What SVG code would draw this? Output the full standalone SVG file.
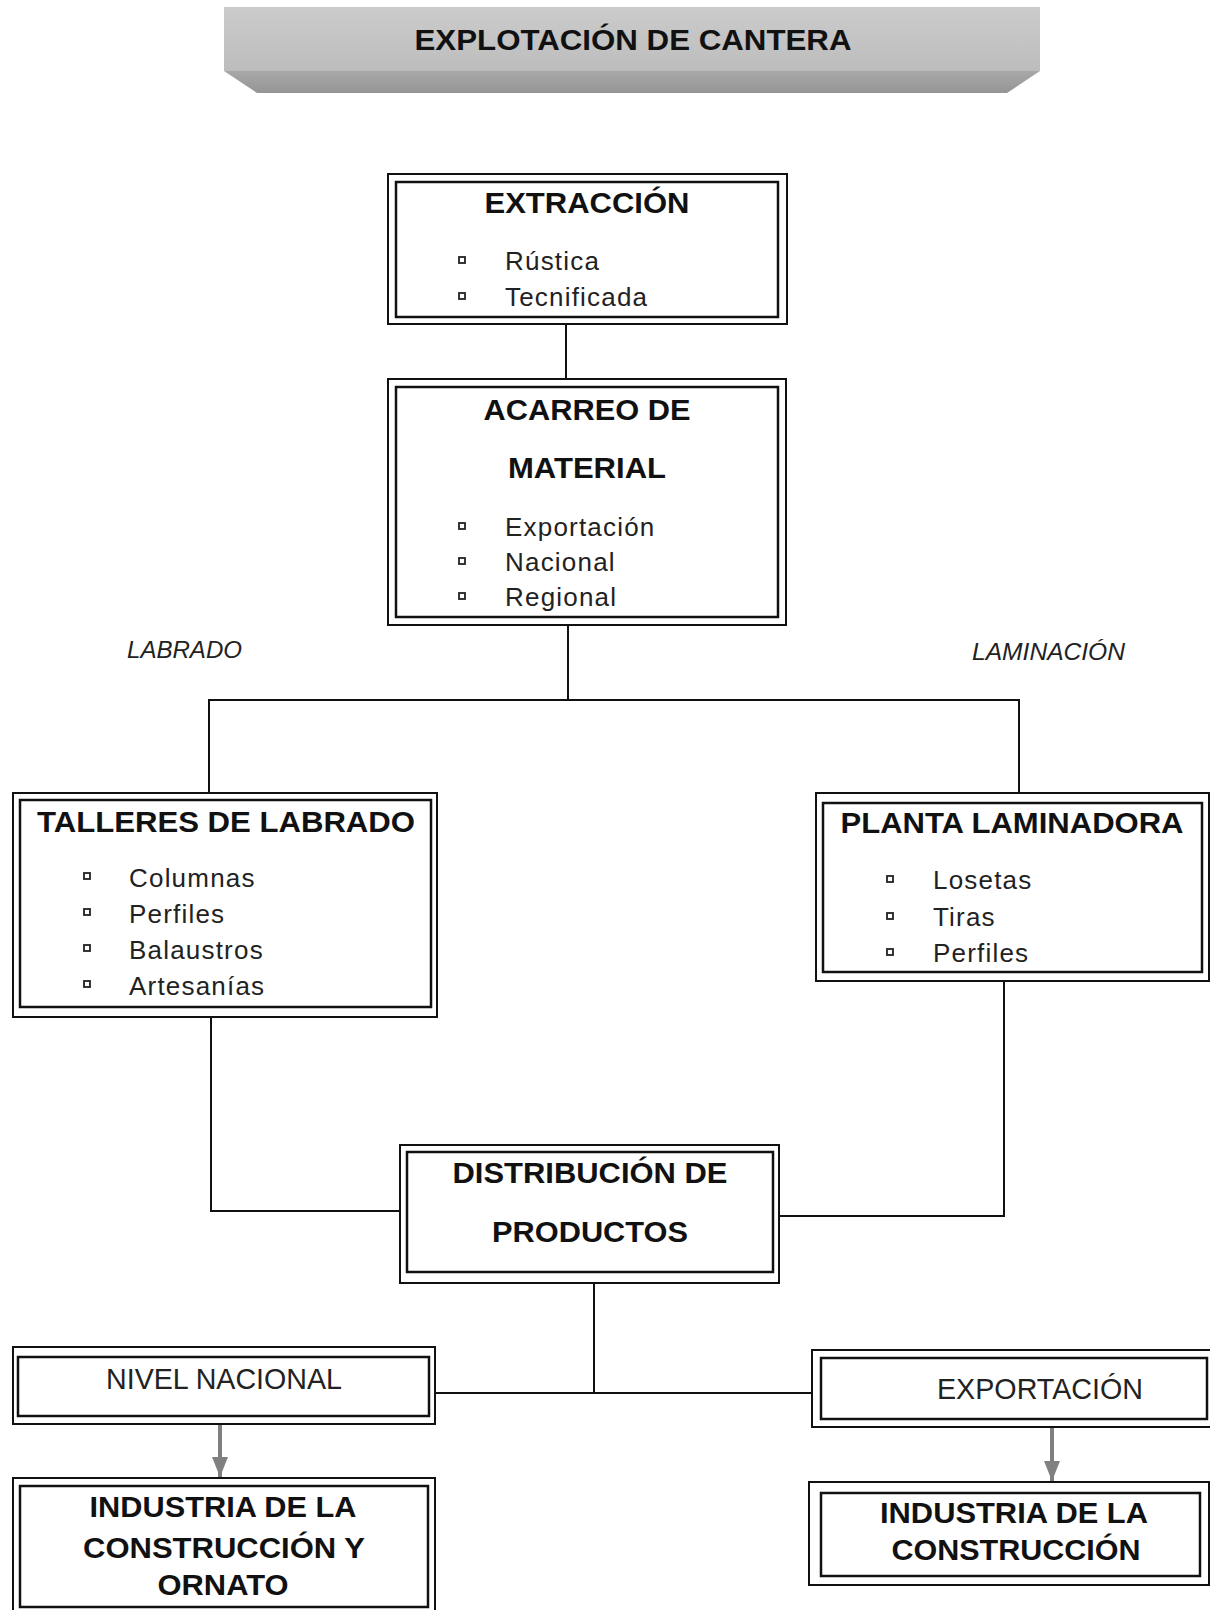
<svg xmlns="http://www.w3.org/2000/svg" width="1210" height="1610" viewBox="0 0 1210 1610">
<style>
.o{fill:#fff;stroke:#111;stroke-width:2}
.i{fill:none;stroke:#111;stroke-width:2.5}
.h{font-family:"Liberation Sans",Arial,sans-serif;font-weight:bold;font-size:29px;fill:#111;text-anchor:middle}
.t{font-family:"Liberation Sans",Arial,sans-serif;font-size:26px;fill:#222;letter-spacing:1.2px}
.n{font-family:"Liberation Sans",Arial,sans-serif;font-size:29px;fill:#222;text-anchor:middle}
.lab{font-family:"Liberation Sans",Arial,sans-serif;font-style:italic;font-size:23px;fill:#222}
.b{fill:#fff;stroke:#222;stroke-width:1.8}
.c{fill:none;stroke:#111;stroke-width:2}
.ga{stroke:#808080;stroke-width:4;fill:none}
</style>
<defs>
<linearGradient id="top" x1="0" y1="0" x2="0" y2="1">
<stop offset="0" stop-color="#cbcbcb"/><stop offset="1" stop-color="#bdbdbd"/>
</linearGradient>
<linearGradient id="bev" x1="0" y1="0" x2="0" y2="1">
<stop offset="0" stop-color="#a8a8a8"/><stop offset="1" stop-color="#959595"/>
</linearGradient>
<marker id="ah" markerWidth="5" markerHeight="4" refX="5" refY="2" orient="auto" markerUnits="strokeWidth">
<path d="M0,0 L5,2 L0,4 z" fill="#808080"/>
</marker>
</defs>
<rect width="1210" height="1610" fill="#fff"/>

<g id="title">
<polygon points="224,71 1040,71 1007,93 257,93" fill="url(#bev)"/>
<rect x="224" y="7" width="816" height="64" fill="url(#top)"/>
<text x="633" y="50" class="h" textLength="437" lengthAdjust="spacingAndGlyphs">EXPLOTACIÓN DE CANTERA</text>
</g>

<g id="connectors">
<line class="c" x1="566" y1="324" x2="566" y2="379"/>
<polyline class="c" points="568,625 568,700"/>
<polyline class="c" points="209,793 209,700 1019,700 1019,793"/>
<polyline class="c" points="211,1017 211,1211 400,1211"/>
<polyline class="c" points="1004,981 1004,1216 779,1216"/>
<line class="c" x1="594" y1="1283" x2="594" y2="1393"/>
<line class="c" x1="436" y1="1393" x2="812" y2="1393"/>
<line class="ga" x1="220" y1="1425" x2="220" y2="1477" marker-end="url(#ah)"/>
<line class="ga" x1="1052" y1="1428" x2="1052" y2="1481" marker-end="url(#ah)"/>
</g>

<g id="labrado-label"><text x="127" y="658" class="lab" textLength="115" lengthAdjust="spacingAndGlyphs">LABRADO</text></g>
<g id="laminacion-label"><text x="972" y="660" class="lab" textLength="153" lengthAdjust="spacingAndGlyphs">LAMINACIÓN</text></g>

<g id="extraccion">
<rect class="o" x="388" y="174" width="399" height="150"/>
<rect class="i" x="396" y="182" width="382" height="135"/>
<text x="587" y="213" class="h" textLength="205" lengthAdjust="spacingAndGlyphs">EXTRACCIÓN</text>
<rect class="b" x="459" y="257" width="6" height="6"/>
<text x="505" y="270" class="t">Rústica</text>
<rect class="b" x="459" y="293" width="6" height="6"/>
<text x="505" y="306" class="t">Tecnificada</text>
</g>

<g id="acarreo">
<rect class="o" x="388" y="379" width="398" height="246"/>
<rect class="i" x="396" y="387" width="382" height="230"/>
<text x="587" y="420" class="h" textLength="207" lengthAdjust="spacingAndGlyphs">ACARREO DE</text>
<text x="587" y="478" class="h" textLength="158" lengthAdjust="spacingAndGlyphs">MATERIAL</text>
<rect class="b" x="459" y="523" width="6" height="6"/>
<text x="505" y="536" class="t">Exportación</text>
<rect class="b" x="459" y="558" width="6" height="6"/>
<text x="505" y="571" class="t">Nacional</text>
<rect class="b" x="459" y="593" width="6" height="6"/>
<text x="505" y="606" class="t">Regional</text>
</g>

<g id="talleres">
<rect class="o" x="13" y="793" width="424" height="224"/>
<rect class="i" x="20" y="800" width="411" height="207"/>
<text x="226" y="832" class="h" textLength="378" lengthAdjust="spacingAndGlyphs">TALLERES DE LABRADO</text>
<rect class="b" x="84" y="873" width="6" height="6"/>
<text x="129" y="887" class="t">Columnas</text>
<rect class="b" x="84" y="909" width="6" height="6"/>
<text x="129" y="923" class="t">Perfiles</text>
<rect class="b" x="84" y="945" width="6" height="6"/>
<text x="129" y="959" class="t">Balaustros</text>
<rect class="b" x="84" y="981" width="6" height="6"/>
<text x="129" y="995" class="t">Artesanías</text>
</g>

<g id="planta">
<rect class="o" x="816" y="793" width="393" height="188"/>
<rect class="i" x="823" y="803" width="379" height="169"/>
<text x="1012" y="833" class="h" textLength="343" lengthAdjust="spacingAndGlyphs">PLANTA LAMINADORA</text>
<rect class="b" x="887" y="876" width="6" height="6"/>
<text x="933" y="889" class="t">Losetas</text>
<rect class="b" x="887" y="913" width="6" height="6"/>
<text x="933" y="926" class="t">Tiras</text>
<rect class="b" x="887" y="949" width="6" height="6"/>
<text x="933" y="962" class="t">Perfiles</text>
</g>

<g id="distribucion">
<rect class="o" x="400" y="1145" width="379" height="138"/>
<rect class="i" x="407" y="1152" width="366" height="120"/>
<text x="590" y="1183" class="h" textLength="275" lengthAdjust="spacingAndGlyphs">DISTRIBUCIÓN DE</text>
<text x="590" y="1242" class="h" textLength="196" lengthAdjust="spacingAndGlyphs">PRODUCTOS</text>
</g>

<g id="nivel-nacional">
<rect class="o" x="13" y="1347" width="422" height="77"/>
<rect class="i" x="18" y="1357" width="411" height="59"/>
<text x="224" y="1389" class="n" textLength="236" lengthAdjust="spacingAndGlyphs">NIVEL NACIONAL</text>
</g>

<g id="exportacion">
<rect class="o" x="812" y="1350" width="400" height="77"/>
<rect class="i" x="821" y="1358" width="386" height="61"/>
<text x="1040" y="1399" class="n" textLength="206" lengthAdjust="spacingAndGlyphs">EXPORTACIÓN</text>
</g>

<g id="industria-ornato">
<rect class="o" x="13" y="1478" width="422" height="140"/>
<rect class="i" x="20" y="1486" width="408" height="121"/>
<text x="223" y="1517" class="h" textLength="267" lengthAdjust="spacingAndGlyphs">INDUSTRIA DE LA</text>
<text x="224" y="1558" class="h" textLength="282" lengthAdjust="spacingAndGlyphs">CONSTRUCCIÓN Y</text>
<text x="223" y="1595" class="h" textLength="131" lengthAdjust="spacingAndGlyphs">ORNATO</text>
</g>

<g id="industria">
<rect class="o" x="809" y="1482" width="400" height="103"/>
<rect class="i" x="821" y="1493" width="379" height="83"/>
<text x="1014" y="1523" class="h" textLength="268" lengthAdjust="spacingAndGlyphs">INDUSTRIA DE LA</text>
<text x="1016" y="1560" class="h" textLength="249" lengthAdjust="spacingAndGlyphs">CONSTRUCCIÓN</text>
</g>
</svg>
